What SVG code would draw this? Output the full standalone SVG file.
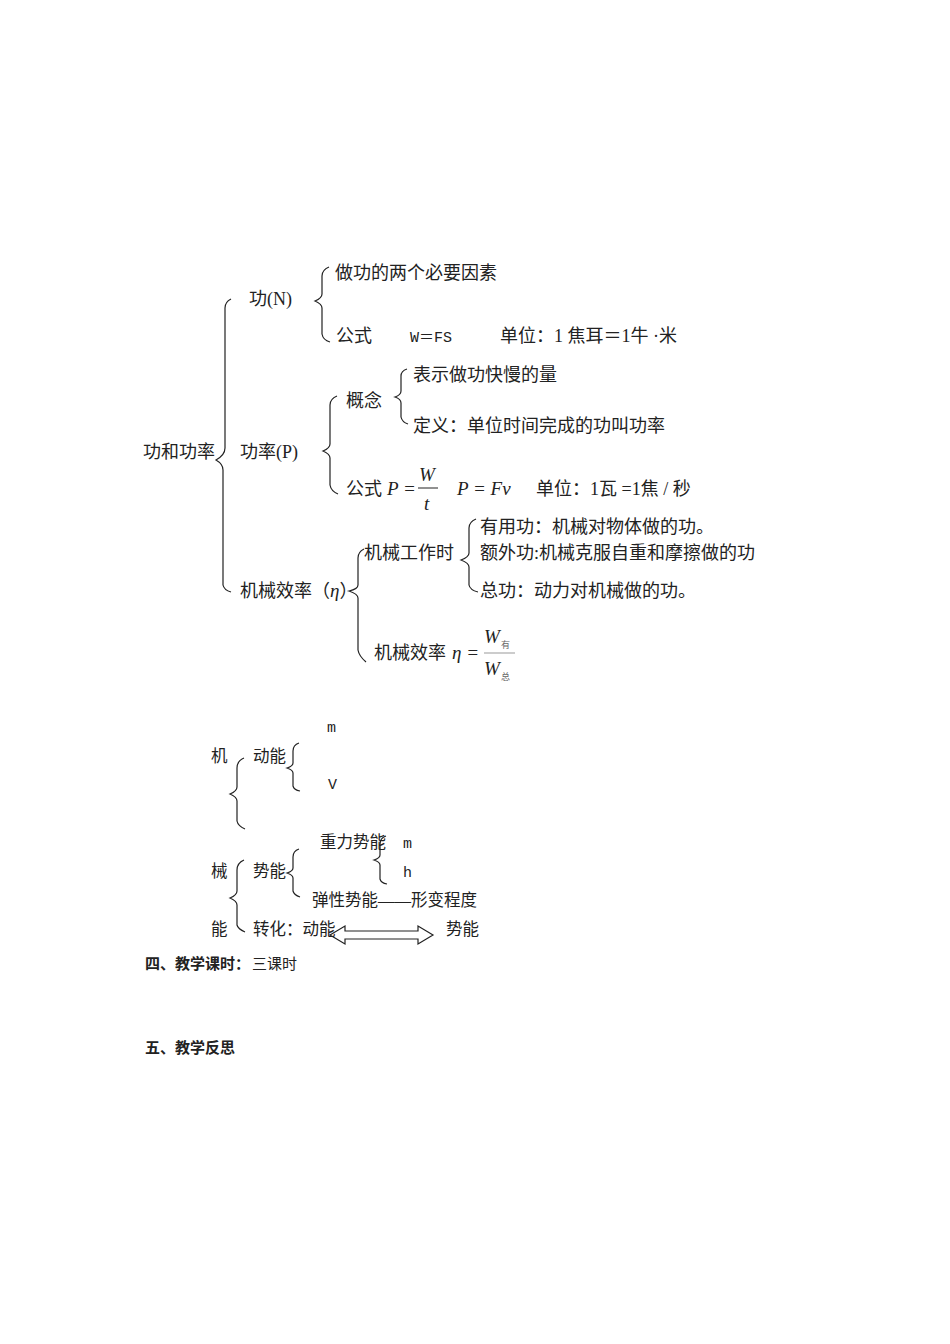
<svg xmlns="http://www.w3.org/2000/svg" width="950" height="1344" viewBox="0 0 950 1344">
<style>
text{font-family:"Liberation Serif","Noto Sans CJK SC",serif;font-size:18px;fill:#222}
.s{font-size:16.5px}
.m{font-family:"Liberation Mono","Noto Sans CJK SC",monospace;font-size:15px}
.i{font-style:italic;font-size:19px}
.b{font-weight:bold;font-family:"Noto Sans CJK SC",sans-serif;font-size:15px}
.br{fill:none;stroke:#222;stroke-width:1.2}
</style>
<rect width="950" height="1344" fill="#fff"/>
<g id="connectors">
<path class="br" d="M231,299 Q225,302 225,308 L225,448 Q225,455 216,460 Q223,464 223,470 L223,585 Q224,590 231,592"/>
<path class="br" d="M329,267 Q322,270 322,276 L322,294 Q322,298 315,301 Q322,304 322,308 L322,334 Q323,340 330,342"/>
<path class="br" d="M337,396 Q330,399 330,405 L330,444 Q330,448 323,451 Q330,454 330,458 L330,485 Q331,491 338,494"/>
<path class="br" d="M407,369 Q401,371 401,376 L401,391 Q401,395 395,397 Q401,399 401,403 L401,417 Q402,422 408,424"/>
<path class="br" d="M364,549 Q358,552 358,558 L358,585 Q358,589 349,591 Q358,594 358,598 L358,650 Q359,656 366,662"/>
<path class="br" d="M476,519 Q469,522 469,528 L469,553 Q469,557 461,560 Q469,563 469,567 L469,585 Q470,590 478,592"/>
<path class="br" d="M244,758 Q237,761 237,768 L237,787 Q237,791 230,794 Q237,797 237,801 L237,821 Q238,826 245,829"/>
<path class="br" d="M299,743 Q293,745 293,751 L293,763 Q293,766 287,768 Q293,770 293,773 L293,786 Q294,790 300,791"/>
<path class="br" d="M244,860 Q237,863 237,870 L237,891 Q237,895 230,898 Q237,901 237,905 L237,925 Q238,929 245,932"/>
<path class="br" d="M299,849 Q293,851 293,857 L293,868 Q293,871 287,873 Q293,875 293,878 L293,891 Q294,895 300,897"/>
<path class="br" d="M386,836 Q380,838 380,844 L380,855 Q380,858 374,860 Q380,862 380,865 L380,879 Q381,883 387,884"/>
<path d="M330,935 L345,926 L345,931 L418,931 L418,926 L433,935 L418,944 L418,939 L345,939 L345,944 Z" fill="#fff" stroke="#222" stroke-width="1.2"/>
<line x1="418" y1="488" x2="438" y2="488" stroke="#222" stroke-width="1"/>
<line x1="484" y1="653" x2="515" y2="653" stroke="#999" stroke-width="1"/>
</g>
<g id="n-root"><text x="143" y="458">功和功率</text></g>
<g id="n-gong"><text x="249" y="305">功(N)</text></g>
<g id="n-gong1"><text x="335" y="279">做功的两个必要因素</text></g>
<g id="n-gong2"><text x="336" y="342">公式</text><text x="410" y="342" class="m">W＝FS</text><text x="500" y="342">单位：1 焦耳＝1牛 ·米</text></g>
<g id="n-gonglv"><text x="240" y="458">功率(P)</text></g>
<g id="n-gainian"><text x="346" y="407">概念</text></g>
<g id="n-g1"><text x="413" y="381">表示做功快慢的量</text></g>
<g id="n-g2"><text x="413" y="432">定义：单位时间完成的功叫功率</text></g>
<g id="n-gongshi"><text x="346" y="495">公式</text><text x="387" y="495" class="i">P =</text><text x="419" y="481" class="i">W</text><text x="424" y="510" class="i">t</text><text x="457" y="495" class="i">P = Fv</text><text x="536" y="495">单位：1瓦 =1焦 / 秒</text></g>
<g id="n-xiaolv"><text x="240" y="597">机械效率（<tspan class="i">η</tspan>）</text></g>
<g id="n-gzs"><text x="364" y="559">机械工作时</text></g>
<g id="n-w1"><text x="480" y="533">有用功：机械对物体做的功。</text></g>
<g id="n-w2"><text x="480" y="559">额外功:机械克服自重和摩擦做的功</text></g>
<g id="n-w3"><text x="480" y="597">总功：动力对机械做的功。</text></g>
<g id="n-eta"><text x="374" y="659">机械效率</text><text x="452" y="659" class="i">η =</text><text x="484" y="643" class="i">W</text><text x="501" y="648" style="font-size:9px;fill:#666">有</text><text x="484" y="675" class="i">W</text><text x="501" y="680" style="font-size:9px;fill:#666">总</text></g>
<g id="n-ji"><text x="211" y="762" class="s">机</text><text x="211" y="877" class="s">械</text><text x="211" y="935" class="s">能</text></g>
<g id="n-dong"><text x="253" y="762" class="s">动能</text><text x="327" y="732" class="m">m</text><text x="328" y="789" class="m">V</text></g>
<g id="n-shi"><text x="253" y="877" class="s">势能</text><text x="320" y="848" class="s">重力势能</text><text x="403" y="848" class="m">m</text><text x="403" y="877" class="m">h</text><text x="312" y="906" class="s">弹性势能——形变程度</text></g>
<g id="n-zh"><text x="253" y="935" class="s">转化：动能</text><text x="446" y="935" class="s">势能</text></g>
<g id="n-s4"><text x="145" y="969" class="b">四、教学课时：</text><text x="252" y="969" style="font-size:15px">三课时</text></g>
<g id="n-s5"><text x="145" y="1053" class="b">五、教学反思</text></g>
</svg>
